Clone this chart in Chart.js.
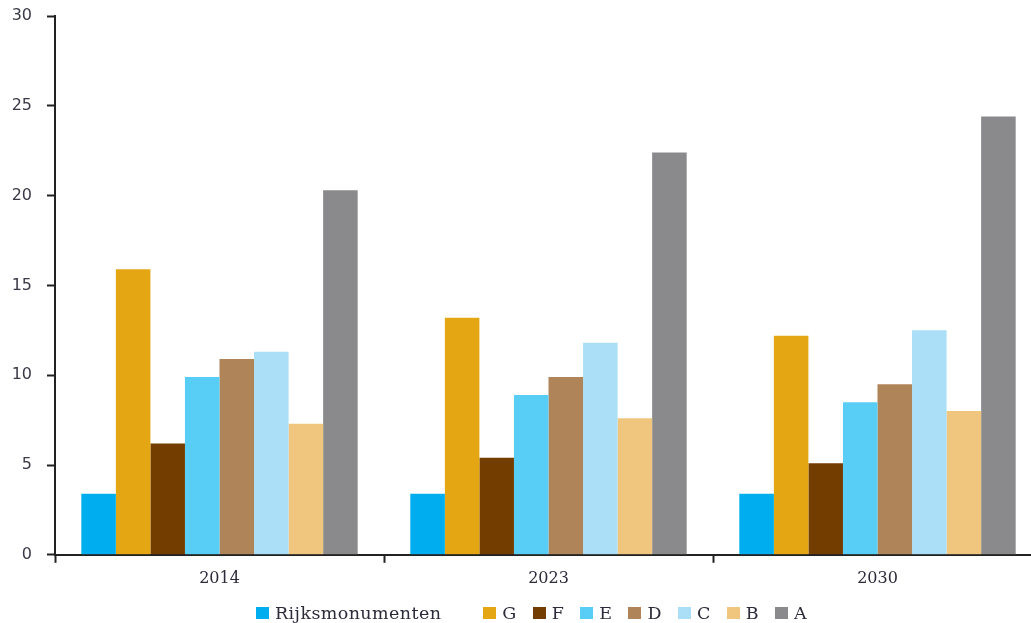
<!DOCTYPE html>
<html>
<head>
<meta charset="utf-8">
<script src="https://cdn.jsdelivr.net/npm/chart.js@4/dist/chart.umd.min.js"></script>
<style>
    html, body { margin: 0; padding: 0; background: #fff; overflow: hidden; }
    .wrap { position: absolute; left: 0; top: 0; width: 1046px; height: 623px; }
    .legend {
        position: absolute; left: 0; top: 603px; width: 1063px; height: 20px;
        display: flex; justify-content: center; align-items: center;
        font-family: 'DejaVu Serif'; font-size: 17.5px; letter-spacing: 0.4px; color: #2b2b3a;
    }
    .legend .item { display: flex; align-items: center; margin: 0 8px; }
    .legend .item:first-child { margin-right: 34px; }
    .legend .box { width: 13px; height: 12px; margin-right: 6px; }
</style>
</head>
<body>
<div class="wrap"><canvas id="myChart"></canvas></div>
<div class="legend" id="legend"></div>
<script>
const years = ['2014', '2023', '2030'];
const labelNames = ['Rijksmonumenten', 'G', 'F', 'E', 'D', 'C', 'B', 'A'];
const rijks = [3.4, 3.4, 3.4];
const labelG = [15.9, 13.2, 12.2];
const labelF = [6.2, 5.4, 5.1];
const labelE = [9.9, 8.9, 8.5];
const labelD = [10.9, 9.9, 9.5];
const labelC = [11.3, 11.8, 12.5];
const labelB = [7.3, 7.6, 8.0];
const labelA = [20.3, 22.4, 24.4];
const yTicks = [0, 5, 10, 15, 20, 25, 30];

const colors = ['#00aeef', '#e5a614', '#733d00', '#58cdf5', '#af8458', '#aadff7', '#f0c67f', '#8a8a8c'];
const series = [rijks, labelG, labelF, labelE, labelD, labelC, labelB, labelA];

const ctx = document.getElementById('myChart').getContext('2d');
const myChart = new Chart(ctx, {
    type: 'bar',
    data: {
        labels: years,
        datasets: series.map((values, i) => ({
            label: labelNames[i],
            data: values,
            backgroundColor: colors[i],
            borderWidth: 0,
            categoryPercentage: 0.84,
            barPercentage: 1.0
        }))
    },
    options: {
        responsive: true,
        maintainAspectRatio: false,
        animation: false,
        layout: { padding: { left: 0, right: 4, top: 0, bottom: 29 } },
        plugins: {
            tooltip: { enabled: false },
            legend: { display: false }
        },
        scales: {
            x: {
                grid: {
                    offset: true,
                    drawOnChartArea: false,
                    drawTicks: true,
                    tickLength: 8,
                    tickWidth: 2,
                    tickColor: '#222'
                },
                border: { color: '#222', width: 2 },
                ticks: {
                    color: '#2b2b3a',
                    padding: 6,
                    font: { family: 'DejaVu Serif', size: 16 }
                }
            },
            y: {
                min: 0,
                max: 30,
                afterBuildTicks: axis => { axis.ticks = yTicks.map(v => ({ value: v })); },
                grid: {
                    drawOnChartArea: false,
                    tickLength: 8,
                    tickWidth: 2,
                    tickColor: '#222'
                },
                border: { color: '#222', width: 2 },
                ticks: {
                    color: '#3a3a48',
                    padding: 15,
                    font: { family: 'DejaVu Sans', size: 16 }
                },
                afterFit: axis => {
                    axis.width = 55;
                    // the wide label padding should not push the top of the axis down
                    axis.paddingTop = 16;
                    axis.paddingBottom = 10;
                }
            }
        }
    }
});

// legend row under the chart, built from the dataset names and colours
const legendEl = document.getElementById('legend');
myChart.data.datasets.forEach(ds => {
    const item = document.createElement('span');
    item.className = 'item';
    const box = document.createElement('span');
    box.className = 'box';
    box.style.background = ds.backgroundColor;
    item.appendChild(box);
    item.appendChild(document.createTextNode(ds.label));
    legendEl.appendChild(item);
});
</script>
</body>
</html>
